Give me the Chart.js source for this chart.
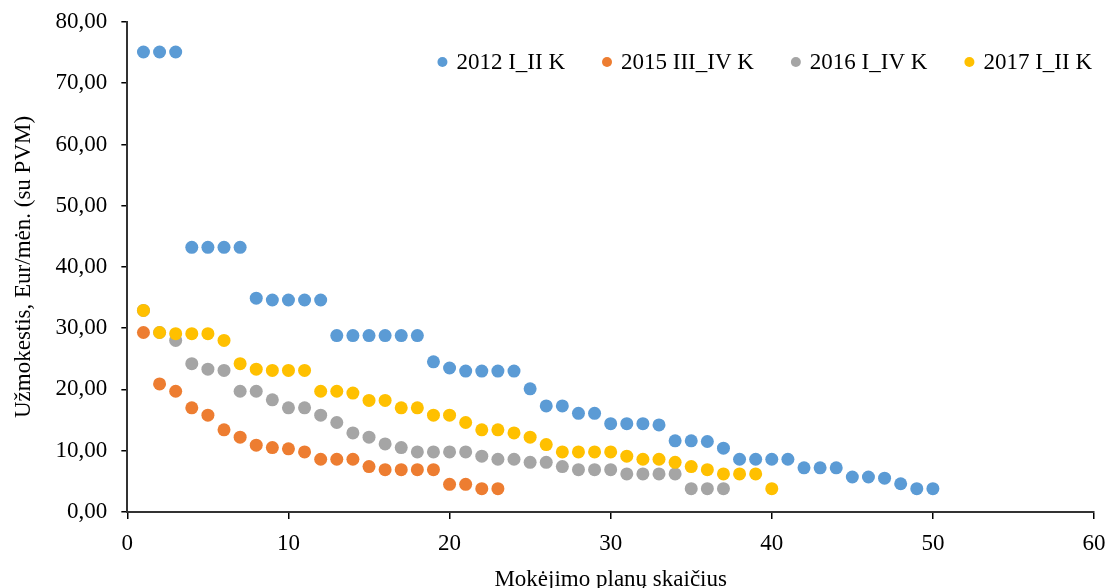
<!DOCTYPE html>
<html>
<head>
<meta charset="utf-8">
<script src="https://cdn.jsdelivr.net/npm/chart.js@4"></script>
<style>
  html, body { margin: 0; padding: 0; background: #fff; }
  #wrap { width: 1109px; height: 588px; }
</style>
</head>
<body>
<div id="wrap"><canvas id="scatterChart" width="1109" height="588"></canvas></div>
<script>
// series labels
const seriesLabels = ['2012 I_II K', '2015 III_IV K', '2016 I_IV K', '2017 I_II K'];
const seriesColors = ['#5B9BD5', '#ED7D31', '#A5A5A5', '#FFC000'];

// values per plan number (x = 1, 2, 3 ...)
const values2012 = [75.1, 75.1, 75.1, 43.2, 43.2, 43.2, 43.2, 34.9, 34.6, 34.6, 34.6, 34.6,
    28.8, 28.8, 28.8, 28.8, 28.8, 28.8, 24.5, 23.5, 23.0, 23.0, 23.0, 23.0, 20.1, 17.3, 17.3,
    16.1, 16.1, 14.4, 14.4, 14.4, 14.2, 11.6, 11.6, 11.5, 10.4, 8.6, 8.6, 8.6, 8.6, 7.2, 7.2,
    7.2, 5.7, 5.7, 5.5, 4.6, 3.8, 3.8];
const values2015 = [29.3, 20.9, 19.7, 17.0, 15.8, 13.4, 12.2, 10.9, 10.5, 10.3, 9.8, 8.6, 8.6,
    8.6, 7.4, 6.9, 6.9, 6.9, 6.9, 4.5, 4.5, 3.8, 3.8];
const values2016 = [32.9, 29.3, 28.0, 24.2, 23.3, 23.1, 19.7, 19.7, 18.3, 17.0, 17.0, 15.8, 14.6,
    12.9, 12.2, 11.1, 10.5, 9.8, 9.8, 9.8, 9.8, 9.1, 8.6, 8.6, 8.1, 8.1, 7.4, 6.9, 6.9, 6.9, 6.2,
    6.2, 6.2, 6.2, 3.8, 3.8, 3.8];
const values2017 = [32.9, 29.3, 29.1, 29.1, 29.1, 28.0, 24.2, 23.3, 23.1, 23.1, 23.1, 19.7, 19.7,
    19.4, 18.2, 18.2, 17.0, 17.0, 15.8, 15.8, 14.6, 13.4, 13.4, 12.9, 12.2, 11.0, 9.8, 9.8, 9.8,
    9.8, 9.1, 8.6, 8.6, 8.1, 7.4, 6.9, 6.2, 6.2, 6.2, 3.8];
const allValues = [values2012, values2015, values2016, values2017];

const serif = "'Liberation Serif', 'Times New Roman', serif";

//custom legend inside the plot, top right
const innerLegend = {
    id: 'innerLegend',
    afterDraw(chart) {
        const ctx = chart.ctx;
        const area = chart.chartArea;
        ctx.save();
        ctx.font = '23px ' + serif;
        ctx.textBaseline = 'middle';
        const markerR = 5, markerGap = 9, itemGap = 37;
        const widths = seriesLabels.map(l => ctx.measureText(l).width);
        let total = 0;
        widths.forEach((w, i) => { total += markerR * 2 + markerGap + w + (i < widths.length - 1 ? itemGap : 0); });
        let x = area.right - 2 - total;
        const y = 62;
        seriesLabels.forEach((label, i) => {
            ctx.fillStyle = seriesColors[i];
            ctx.beginPath();
            ctx.arc(x + markerR, y, markerR, 0, Math.PI * 2);
            ctx.fill();
            ctx.fillStyle = '#000';
            ctx.fillText(label, x + markerR * 2 + markerGap, y + 1);
            x += markerR * 2 + markerGap + widths[i] + itemGap;
        });
        ctx.restore();
    }
};

const ctx = document.getElementById('scatterChart').getContext('2d');
const scatterChart = new Chart(ctx, {
    type: 'scatter',
    data: {
        datasets: allValues.map((vals, i) => ({
            label: seriesLabels[i],
            data: vals.map((v, j) => ({ x: j + 1, y: v })),
            backgroundColor: seriesColors[i],
            borderWidth: 0,
            pointRadius: 6.5,
            pointHoverRadius: 6.5,
            order: 3 - i  // later series drawn on top
        }))
    },
    options: {
        responsive: false,
        animation: false,
        layout: {
            padding: { top: 22, right: 15, left: 10, bottom: -7.5 }
        },
        plugins: {
            legend: { display: false },
            tooltip: { enabled: false }
        },
        scales: {
            x: {
                type: 'linear',
                min: 0,
                max: 60,
                afterFit: s => { s.paddingLeft = 0; s.paddingRight = 0; },
                ticks: {
                    stepSize: 10,
                    color: '#000',
                    padding: 11,
                    font: { family: serif, size: 23 }
                },
                grid: { drawOnChartArea: false, drawTicks: true, tickLength: 7, color: '#000', lineWidth: 1.5 },
                border: { color: '#333', width: 2 },
                title: {
                    display: true,
                    text: 'Mokėjimo planų skaičius',
                    color: '#000',
                    padding: { top: 0, bottom: 4 },
                    font: { family: serif, size: 23, lineHeight: 1.0 }
                }
            },
            y: {
                min: 0,
                max: 80,
                afterFit: s => { s.paddingTop = 0; s.paddingBottom = 0; },
                ticks: {
                    stepSize: 10,
                    color: '#000',
                    padding: 14,
                    font: { family: serif, size: 23 },
                    callback: v => v.toFixed(2).replace('.', ',')
                },
                grid: { drawOnChartArea: false, drawTicks: true, tickLength: 6, color: '#000', lineWidth: 1.5 },
                border: { color: '#333', width: 2 },
                title: {
                    display: true,
                    text: 'Užmokestis, Eur/mėn. (su PVM)',
                    color: '#000',
                    padding: { top: 0, bottom: 4 },
                    font: { family: serif, size: 23 }
                }
            }
        }
    },
    plugins: [innerLegend]
});
</script>
</body>
</html>
